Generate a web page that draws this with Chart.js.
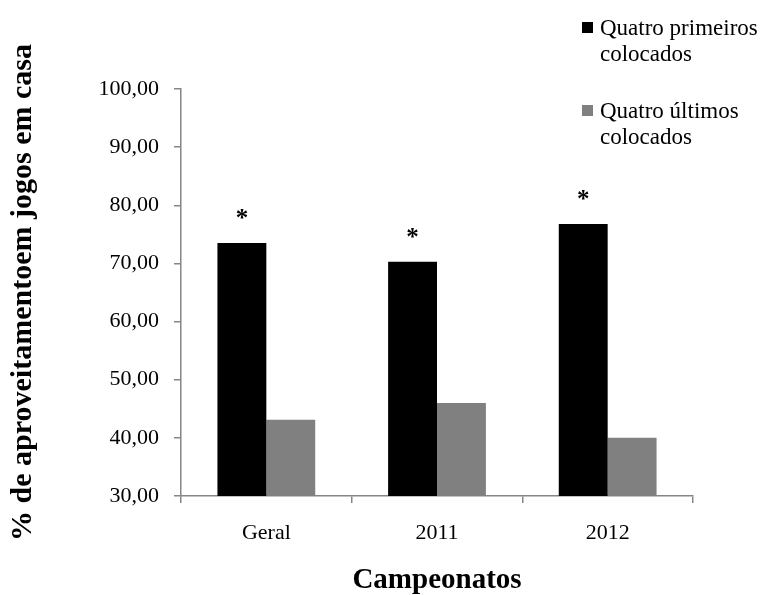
<!DOCTYPE html>
<html>
<head>
<meta charset="utf-8">
<script src="https://cdn.jsdelivr.net/npm/chart.js@4.4.0/dist/chart.umd.min.js"></script>
<style>
html, body { margin: 0; padding: 0; background: #ffffff; }
</style>
</head>
<body>
<canvas id="grafico" width="770" height="595"></canvas>
<script>
// dados
var categorias = ["Geral", "2011", "2012"];
var primeiros = [73.5, 70.3, 76.8];
var ultimos = [43.1, 46.0, 40.0];
var marcas = ["*", "*", "*"];
var ticksY = [30, 40, 50, 60, 70, 80, 90, 100];
var nomesSeries = [["Quatro primeiros", "colocados"], ["Quatro últimos", "colocados"]];
var cores = ["#000000", "#808080"];

var fonte = "'Liberation Serif', 'Times New Roman', serif";
var corEixo = "#868686";

// asteriscos sobre as barras pretas
var pluginMarcas = {
    id: "marcas",
    afterDatasetsDraw: function(chart){
        var ctx = chart.ctx;
        var meta = chart.getDatasetMeta(0);
        ctx.save();
        ctx.fillStyle = "#000000";
        ctx.font = "bold 25px " + fonte;
        ctx.textAlign = "center";
        ctx.textBaseline = "alphabetic";
        meta.data.forEach(function(bar, i){
            ctx.fillText(marcas[i], bar.x, bar.y - 17);
        });
        ctx.restore();
    }
};

// legenda no canto superior direito (texto em duas linhas)
var pluginLegenda = {
    id: "legenda",
    afterDraw: function(chart){
        var ctx = chart.ctx;
        var topos = [35, 118];
        ctx.save();
        ctx.font = "23px " + fonte;
        ctx.textAlign = "left";
        ctx.textBaseline = "alphabetic";
        chart.data.datasets.forEach(function(ds, i){
            var base = topos[i];
            ctx.fillStyle = ds.backgroundColor;
            ctx.fillRect(582, base - 13, 11, 11);
            ctx.fillStyle = "#000000";
            ds.linhas.forEach(function(linha, j){
                ctx.fillText(linha, 600, base + j * 26);
            });
        });
        ctx.restore();
    }
};

var ctx = document.getElementById("grafico");

var grafico = new Chart(ctx, {
    type: "bar",
    data: {
        labels: categorias,
        datasets: [{
            label: nomesSeries[0].join(" "),
            linhas: nomesSeries[0],
            data: primeiros,
            backgroundColor: cores[0]
        }, {
            label: nomesSeries[1].join(" "),
            linhas: nomesSeries[1],
            data: ultimos,
            backgroundColor: cores[1]
        }]
    },
    options: {
        responsive: false,
        animation: false,
        layout: {
            padding: { left: 0, top: 89, right: 77, bottom: 0 }
        },
        datasets: {
            bar: {
                categoryPercentage: 0.573,
                barPercentage: 1.0
            }
        },
        plugins: {
            legend: { display: false },
            tooltip: { enabled: false }
        },
        scales: {
            x: {
                afterFit: function(scale){ scale.height = 99; },
                border: { color: corEixo, width: 1.5 },
                grid: {
                    display: true,
                    drawOnChartArea: false,
                    drawTicks: true,
                    tickLength: 7,
                    color: corEixo,
                    lineWidth: 1.5
                },
                ticks: {
                    color: "#000000",
                    padding: 17,
                    font: { family: fonte, size: 22 }
                },
                title: {
                    display: true,
                    text: "Campeonatos",
                    color: "#000000",
                    padding: 0,
                    font: { family: fonte, size: 29, weight: "bold", lineHeight: 1.0 }
                }
            },
            y: {
                min: 30,
                max: 100,
                afterFit: function(scale){ scale.width = 181; },
                afterBuildTicks: function(scale){
                    scale.ticks = ticksY.map(function(v){ return { value: v }; });
                },
                border: { color: corEixo, width: 1.5 },
                grid: {
                    display: true,
                    drawOnChartArea: false,
                    drawTicks: true,
                    tickLength: 7,
                    color: corEixo,
                    lineWidth: 1.5
                },
                ticks: {
                    color: "#000000",
                    padding: 15,
                    font: { family: fonte, size: 22 },
                    callback: function(v){ return v.toFixed(2).replace(".", ","); }
                },
                title: {
                    display: true,
                    text: "% de aproveitamentoem jogos em casa",
                    color: "#000000",
                    padding: { top: 8, bottom: 0 },
                    font: { family: fonte, size: 30, weight: "bold", lineHeight: 1.0 }
                }
            }
        }
    },
    plugins: [pluginMarcas, pluginLegenda]
});
</script>
</body>
</html>
